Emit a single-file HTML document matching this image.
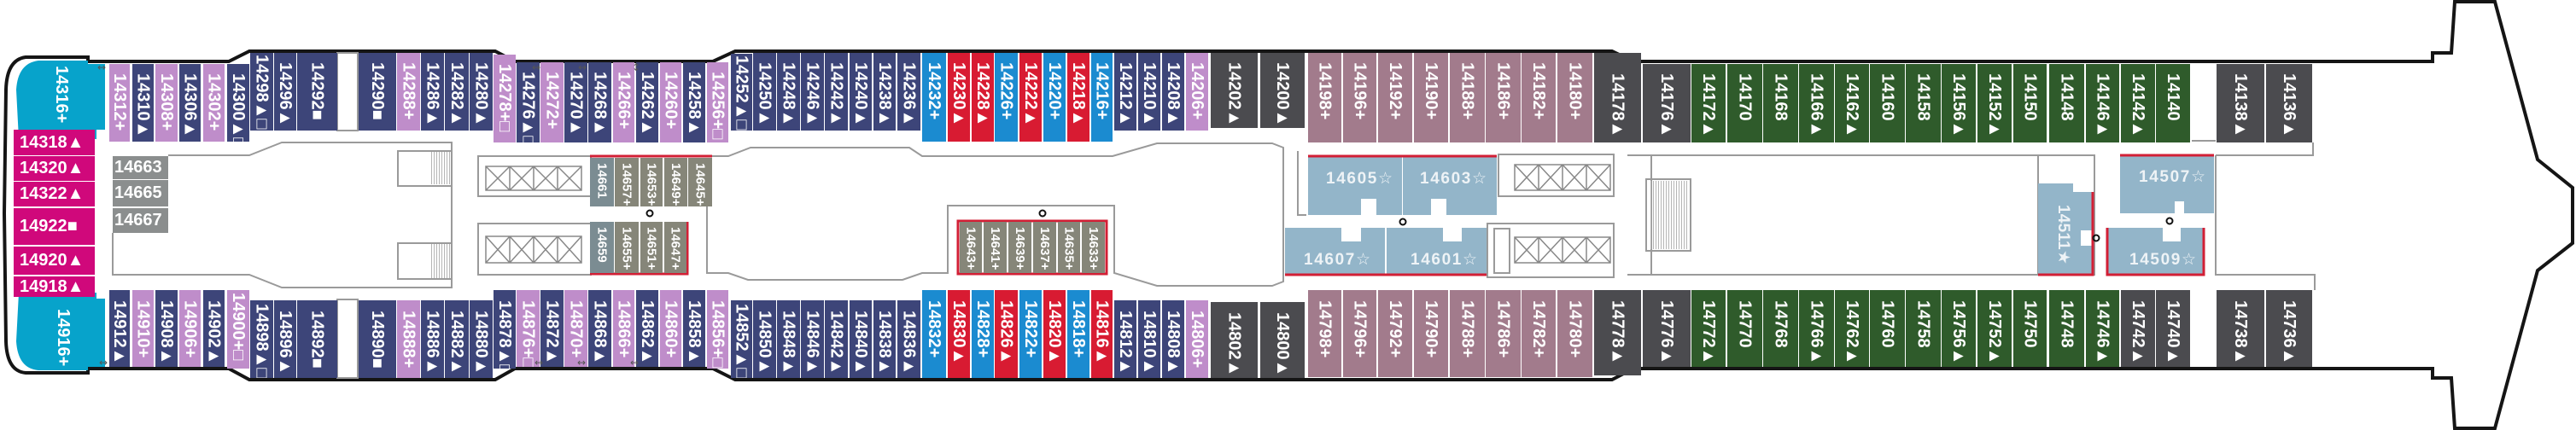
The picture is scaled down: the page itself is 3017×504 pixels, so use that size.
<!DOCTYPE html>
<html><head><meta charset="utf-8"><style>
html,body{margin:0;padding:0;background:#fff}
#w{position:relative;width:3017px;height:504px;overflow:hidden;background:#fff}
svg{position:absolute;left:0;top:0}
.c{position:absolute;display:flex;justify-content:center;align-items:flex-start;color:#fff;font-weight:bold;font-size:20px;font-family:"Liberation Sans","DejaVu Sans",sans-serif;overflow:hidden}
.c span{writing-mode:vertical-rl;text-orientation:sideways;margin-top:11px;line-height:1;white-space:nowrap}
.b span{margin-top:12px}
.s{font-size:15px}.s span{margin-top:6px}
.h{position:absolute;color:#fff;font:bold 20px "Liberation Sans","DejaVu Sans",sans-serif;background:#d0087b;display:flex;align-items:center;padding-left:7px;box-sizing:border-box}
.N{background:#3d4579}.P{background:#bf8dca}.B{background:#1b8bd0}.R{background:#d81b32}.D{background:#4b4b4f}.M{background:#a27b8c}.G{background:#2f5b2b}.O{background:#868679}.Q{background:#7b8c92}
.a{position:absolute;font:12px "DejaVu Sans",sans-serif;color:#555}
</style></head><body><div id="w">
<svg width="3017" height="504" viewBox="0 0 3017 504">
<path d="M30 67 L103 67 L103 72 L268 72 L292 60 L580 60 L603 72 L835 72 L861 60 L1888 60 L1913 72 L2849 72 L2849 62 L2871 62 L2875 2 L2922 2 L2972 187 L3013 220 L3013 285 L2972 317 L2922 502 L2875 502 L2871 443 L2849 443 L2849 432 L1913 432 L1888 445 L861 445 L835 432 L603 432 L580 445 L292 445 L268 432 L103 432 L103 437 L30 437 Q8 435 7 400 L5 250 L7 105 Q8 70 30 67 Z" fill="#fff" stroke="#151515" stroke-width="4"/>
<path d="M22 163 L19 105 Q21 74 45 71 L103 71 L103 75 L123 75 L123 152 L113 152 L113 163 Z" fill="#07a3cb"/>
<path d="M22 343 L113 343 L113 350 L123 350 L123 430 L103 430 L103 434 L45 434 Q21 432 19 400 Z" fill="#07a3cb"/>
<text transform="translate(66,77) rotate(90)" fill="#fff" font-family="Liberation Sans,DejaVu Sans,sans-serif" font-weight="bold" font-size="20">14316+</text>
<text transform="translate(68,362) rotate(90)" fill="#fff" font-family="Liberation Sans,DejaVu Sans,sans-serif" font-weight="bold" font-size="20">14916+</text>
<g fill="none" stroke="#9a9a9a" stroke-width="2">
<path d="M132 273 L132 322 L292 322 L330 337 L529 337 L529 167 L330 167 L292 182 L197 182"/>
<rect x="466" y="177" width="63" height="41"/><rect x="466" y="285" width="63" height="42"/>
<rect x="560" y="183" width="132" height="47"/><rect x="560" y="262" width="132" height="60"/>
<path d="M834 183 L853 183 L879 173 L1065 173 L1080 183 L1303 183 L1355 168 L1490 168 L1503 173 L1503 330 L1490 335 L1355 335 L1305 320 L1305 241 L1110 241 L1110 320 L1080 320 L1057 328 L876 328 L853 320 L828 320 L828 242"/>
<path d="M1520 177 L1520 252 L1530 252"/>
<rect x="1755" y="181" width="135" height="49"/><rect x="1742" y="262" width="148" height="63"/><rect x="1750" y="268" width="18" height="52"/>
<path d="M1906 182 L2387 182 M1906 322 L2387 322 M1934 182 L1934 322"/>
<rect x="1928" y="210" width="52" height="84"/>
<rect x="2387" y="182" width="66" height="140"/>
<path d="M2595 182 L2709 182 L2709 167 M2595 182 L2595 322 L2711 322 L2711 340 M2567 165 L2595 165"/>
<rect x="395" y="62" width="24" height="91"/><rect x="395" y="351" width="24" height="92"/>
</g>
<g stroke="#b5b5b5" stroke-width="1" fill="none">
<line x1="505" y1="197" x2="528" y2="197" stroke-width="38" stroke-dasharray="1 2"/>
<line x1="505" y1="306" x2="528" y2="306" stroke-width="40" stroke-dasharray="1 2"/>
<line x1="1933" y1="252" x2="1976" y2="252" stroke-width="80" stroke-dasharray="1 2"/>
</g>
<g fill="none" stroke="#888" stroke-width="1.5">
<path d="M569 195h28v28h-28zM569 195l28 28M597 195l-28 28M597 195h28v28h-28zM597 195l28 28M625 195l-28 28M625 195h28v28h-28zM625 195l28 28M653 195l-28 28M653 195h28v28h-28zM653 195l28 28M681 195l-28 28"/>
<path d="M569 277h28v31h-28zM569 277l28 31M597 277l-28 31M597 277h28v31h-28zM597 277l28 31M625 277l-28 31M625 277h28v31h-28zM625 277l28 31M653 277l-28 31M653 277h28v31h-28zM653 277l28 31M681 277l-28 31"/>
<path d="M1774 193h28v30h-28zM1774 193l28 30M1802 193l-28 30M1802 193h28v30h-28zM1802 193l28 30M1830 193l-28 30M1830 193h28v30h-28zM1830 193l28 30M1858 193l-28 30M1858 193h28v30h-28zM1858 193l28 30M1886 193l-28 30"/>
<path d="M1774 278h28v30h-28zM1774 278l28 30M1802 278l-28 30M1802 278h28v30h-28zM1802 278l28 30M1830 278l-28 30M1830 278h28v30h-28zM1830 278l28 30M1858 278l-28 30M1858 278h28v30h-28zM1858 278l28 30M1886 278l-28 30"/>
</g>
<g fill="#93b5c9">
<polygon points="1532,183 1642,183 1642,252 1612,252 1612,233 1594,233 1594,252 1532,252"/>
<polygon points="1643,183 1753,183 1753,252 1694,252 1694,233 1676,233 1676,252 1643,252"/>
<polygon points="1505,267 1571,267 1571,283 1594,283 1594,267 1622,267 1622,322 1505,322"/>
<polygon points="1624,267 1690,267 1690,283 1712,283 1712,267 1741,267 1741,322 1624,322"/>
<polygon points="2387,215 2428,215 2428,225 2451,225 2451,270 2437,270 2437,288 2451,288 2451,322 2387,322"/>
<polygon points="2483,182 2593,182 2593,250 2558,250 2558,236 2547,236 2547,250 2483,250"/>
<polygon points="2468,267 2533,267 2533,283 2554,283 2554,267 2581,267 2581,322 2468,322"/>
</g>
<g fill="none" stroke="#d21f35" stroke-width="3">
<path d="M691 183 L834 183"/><path d="M691 321 L805 321 L805 260"/>
<rect x="1122" y="259" width="174" height="62"/>
<path d="M1532 183 L1753 183 M1505 322 L1741 322"/>
<path d="M2451 225 L2451 322 L2387 322"/>
<path d="M2483 182 L2593 182"/>
<path d="M2468 267 L2468 322 L2581 322 L2581 267"/>
</g>
<g fill="#eef3f6" font-family="Liberation Sans,DejaVu Sans,sans-serif" font-size="19" font-weight="bold">
<text x="1553" y="215" textLength="78">14605☆</text>
<text x="1663" y="215" textLength="78">14603☆</text>
<text x="1527" y="310" textLength="78">14607☆</text>
<text x="1652" y="310" textLength="78">14601☆</text>
<text x="2505" y="213" textLength="78">14507☆</text>
<text x="2494" y="310" textLength="78">14509☆</text>
<text transform="translate(2411,240) rotate(90)" textLength="70">14511★</text>
</g>
<g fill="none" stroke="#111" stroke-width="2">
<circle cx="761" cy="250" r="3.5"/><circle cx="1221" cy="250" r="3.5"/><circle cx="1643" cy="260" r="3.5"/><circle cx="2455" cy="279" r="3.5"/><circle cx="2541" cy="259" r="3.5"/>
</g>
</svg>

<div class="h" style="left:16px;top:152px;width:95px;height:30px">14318▲</div>
<div class="h" style="left:16px;top:183px;width:95px;height:29px">14320▲</div>
<div class="h" style="left:16px;top:213px;width:95px;height:29px">14322▲</div>
<div class="h" style="left:16px;top:244px;width:95px;height:43px">14922■</div>
<div class="h" style="left:16px;top:289px;width:95px;height:33px">14920▲</div>
<div class="h" style="left:16px;top:324px;width:95px;height:24px">14918▲</div>

<div class="h" style="left:132px;top:183px;width:65px;height:27px;background:#8b8e8e;font-size:20px;padding-left:2px">14663</div>
<div class="h" style="left:132px;top:211px;width:65px;height:31px;background:#8b8e8e;font-size:20px;padding-left:2px">14665</div>
<div class="h" style="left:132px;top:244px;width:65px;height:29px;background:#8b8e8e;font-size:20px;padding-left:2px">14667</div>

<div class="c s Q" style="left:691px;top:185px;width:28px;height:57px"><span>14661</span></div>
<div class="c s O" style="left:720px;top:185px;width:28px;height:57px"><span>14657+</span></div>
<div class="c s O" style="left:750px;top:185px;width:26px;height:57px"><span>14653+</span></div>
<div class="c s O" style="left:778px;top:185px;width:27px;height:57px"><span>14649+</span></div>
<div class="c s O" style="left:806px;top:185px;width:28px;height:57px"><span>14645+</span></div>
<div class="c s Q" style="left:691px;top:260px;width:28px;height:60px"><span>14659</span></div>
<div class="c s O" style="left:720px;top:260px;width:28px;height:60px"><span>14655+</span></div>
<div class="c s O" style="left:750px;top:260px;width:26px;height:60px"><span>14651+</span></div>
<div class="c s O" style="left:778px;top:260px;width:26px;height:60px"><span>14647+</span></div>
<div class="c s O" style="left:1124px;top:260px;width:26px;height:60px"><span>14643+</span></div>
<div class="c s O" style="left:1152px;top:260px;width:27px;height:60px"><span>14641+</span></div>
<div class="c s O" style="left:1181px;top:260px;width:27px;height:60px"><span>14639+</span></div>
<div class="c s O" style="left:1210px;top:260px;width:27px;height:60px"><span>14637+</span></div>
<div class="c s O" style="left:1239px;top:260px;width:26px;height:60px"><span>14635+</span></div>
<div class="c s O" style="left:1267px;top:260px;width:27px;height:60px"><span>14633+</span></div>

<div class="c P" style="left:128px;top:75px;width:24px;height:91px"><span>14312+</span></div>
<div class="c N" style="left:155px;top:75px;width:25px;height:91px"><span>14310▲</span></div>
<div class="c P" style="left:182px;top:75px;width:26px;height:91px"><span>14308+</span></div>
<div class="c N" style="left:210px;top:75px;width:25px;height:91px"><span>14306▲</span></div>
<div class="c P" style="left:238px;top:75px;width:25px;height:91px"><span>14302+</span></div>
<div class="c N" style="left:266px;top:75px;width:26px;height:91px"><span>14300▲□</span></div>
<div class="c N" style="left:293px;top:62px;width:27px;height:91px"><span style="margin-top:2px">14298▲□</span></div>
<div class="c N" style="left:321px;top:62px;width:26px;height:91px"><span>14296▲</span></div>
<div class="c N" style="left:348px;top:62px;width:47px;height:91px"><span>14292■</span></div>
<div class="c N" style="left:420px;top:62px;width:44px;height:91px"><span>14290■</span></div>
<div class="c P" style="left:465px;top:62px;width:27px;height:91px"><span>14288+</span></div>
<div class="c N" style="left:493px;top:62px;width:27px;height:91px"><span>14286▲</span></div>
<div class="c N" style="left:521px;top:62px;width:28px;height:91px"><span>14282▲</span></div>
<div class="c N" style="left:550px;top:62px;width:27px;height:91px"><span>14280▲</span></div>
<div class="c P" style="left:578px;top:64px;width:26px;height:103px"><span>14278+□</span></div>
<div class="c N" style="left:605px;top:73px;width:27px;height:94px"><span>14276▲□</span></div>
<div class="c P" style="left:633px;top:73px;width:27px;height:94px"><span>14272+</span></div>
<div class="c N" style="left:661px;top:73px;width:27px;height:94px"><span>14270▲</span></div>
<div class="c N" style="left:689px;top:73px;width:27px;height:94px"><span>14268▲</span></div>
<div class="c P" style="left:718px;top:73px;width:25px;height:94px"><span>14266+</span></div>
<div class="c N" style="left:745px;top:73px;width:26px;height:94px"><span>14262▲</span></div>
<div class="c P" style="left:773px;top:73px;width:25px;height:94px"><span>14260+</span></div>
<div class="c N" style="left:800px;top:73px;width:26px;height:94px"><span>14258▲</span></div>
<div class="c P" style="left:828px;top:73px;width:25px;height:94px"><span>14256+□</span></div>
<div class="c N" style="left:856px;top:63px;width:25px;height:90px"><span style="margin-top:2px">14252▲□</span></div>
<div class="c N" style="left:882px;top:62px;width:27px;height:91px"><span>14250▲</span></div>
<div class="c N" style="left:910px;top:62px;width:27px;height:91px"><span>14248▲</span></div>
<div class="c N" style="left:938px;top:62px;width:27px;height:91px"><span>14246▲</span></div>
<div class="c N" style="left:966px;top:62px;width:27px;height:91px"><span>14242▲</span></div>
<div class="c N" style="left:995px;top:62px;width:26px;height:91px"><span>14240▲</span></div>
<div class="c N" style="left:1023px;top:62px;width:26px;height:91px"><span>14238▲</span></div>
<div class="c N" style="left:1051px;top:62px;width:27px;height:91px"><span>14236▲</span></div>
<div class="c B" style="left:1080px;top:62px;width:28px;height:104px"><span>14232+</span></div>
<div class="c R" style="left:1110px;top:62px;width:26px;height:104px"><span>14230▲</span></div>
<div class="c R" style="left:1138px;top:62px;width:26px;height:104px"><span>14228▲</span></div>
<div class="c B" style="left:1165px;top:62px;width:27px;height:104px"><span>14226+</span></div>
<div class="c R" style="left:1194px;top:62px;width:26px;height:104px"><span>14222▲</span></div>
<div class="c B" style="left:1222px;top:62px;width:26px;height:104px"><span>14220+</span></div>
<div class="c R" style="left:1250px;top:62px;width:26px;height:104px"><span>14218▲</span></div>
<div class="c B" style="left:1278px;top:62px;width:25px;height:104px"><span>14216+</span></div>
<div class="c N" style="left:1305px;top:62px;width:26px;height:91px"><span>14212▲</span></div>
<div class="c N" style="left:1333px;top:62px;width:26px;height:91px"><span>14210▲</span></div>
<div class="c N" style="left:1361px;top:62px;width:26px;height:91px"><span>14208▲</span></div>
<div class="c P" style="left:1389px;top:62px;width:26px;height:91px"><span>14206+</span></div>
<div class="c D" style="left:1418px;top:62px;width:55px;height:88px"><span>14202▲</span></div>
<div class="c D" style="left:1476px;top:62px;width:52px;height:88px"><span>14200▲</span></div>
<div class="c M" style="left:1532px;top:62px;width:39px;height:105px"><span>14198+</span></div>
<div class="c M" style="left:1573px;top:62px;width:39px;height:105px"><span>14196+</span></div>
<div class="c M" style="left:1614px;top:62px;width:40px;height:105px"><span>14192+</span></div>
<div class="c M" style="left:1656px;top:62px;width:40px;height:105px"><span>14190+</span></div>
<div class="c M" style="left:1698px;top:62px;width:41px;height:105px"><span>14188+</span></div>
<div class="c M" style="left:1740px;top:62px;width:41px;height:105px"><span>14186+</span></div>
<div class="c M" style="left:1782px;top:62px;width:40px;height:105px"><span>14182+</span></div>
<div class="c M" style="left:1824px;top:62px;width:41px;height:105px"><span>14180+</span></div>
<div class="c D" style="left:1867px;top:62px;width:55px;height:105px"><span style="margin-top:24px">14178▲</span></div>
<div class="c D" style="left:1924px;top:75px;width:56px;height:92px"><span>14176▲</span></div>
<div class="c G" style="left:1981px;top:75px;width:40px;height:92px"><span>14172▲</span></div>
<div class="c G" style="left:2023px;top:75px;width:41px;height:92px"><span>14170</span></div>
<div class="c G" style="left:2065px;top:75px;width:41px;height:92px"><span>14168</span></div>
<div class="c G" style="left:2107px;top:75px;width:41px;height:92px"><span>14166▲</span></div>
<div class="c G" style="left:2149px;top:75px;width:40px;height:92px"><span>14162▲</span></div>
<div class="c G" style="left:2190px;top:75px;width:41px;height:92px"><span>14160</span></div>
<div class="c G" style="left:2232px;top:75px;width:41px;height:92px"><span>14158</span></div>
<div class="c G" style="left:2274px;top:75px;width:40px;height:92px"><span>14156▲</span></div>
<div class="c G" style="left:2316px;top:75px;width:40px;height:92px"><span>14152▲</span></div>
<div class="c G" style="left:2358px;top:75px;width:39px;height:92px"><span>14150</span></div>
<div class="c G" style="left:2400px;top:75px;width:41px;height:92px"><span>14148</span></div>
<div class="c G" style="left:2443px;top:75px;width:39px;height:92px"><span>14146▲</span></div>
<div class="c G" style="left:2484px;top:75px;width:40px;height:92px"><span>14142▲</span></div>
<div class="c G" style="left:2525px;top:75px;width:40px;height:92px"><span>14140</span></div>
<div class="c D" style="left:2596px;top:75px;width:56px;height:92px"><span>14138▲</span></div>
<div class="c D" style="left:2654px;top:75px;width:54px;height:92px"><span>14136▲</span></div>

<div class="c b N" style="left:128px;top:340px;width:24px;height:90px"><span>14912▲</span></div>
<div class="c b P" style="left:155px;top:340px;width:25px;height:90px"><span>14910+</span></div>
<div class="c b N" style="left:182px;top:340px;width:26px;height:90px"><span>14908▲</span></div>
<div class="c b P" style="left:210px;top:340px;width:25px;height:90px"><span>14906+</span></div>
<div class="c b N" style="left:238px;top:340px;width:25px;height:90px"><span>14902▲</span></div>
<div class="c b P" style="left:266px;top:340px;width:26px;height:92px"><span style="margin-top:3px">14900+□</span></div>
<div class="c b N" style="left:293px;top:352px;width:27px;height:91px"><span style="margin-top:4px">14898▲□</span></div>
<div class="c b N" style="left:321px;top:352px;width:26px;height:91px"><span>14896▲</span></div>
<div class="c b N" style="left:348px;top:352px;width:47px;height:91px"><span>14892■</span></div>
<div class="c b N" style="left:420px;top:352px;width:44px;height:91px"><span>14890■</span></div>
<div class="c b P" style="left:465px;top:352px;width:27px;height:91px"><span>14888+</span></div>
<div class="c b N" style="left:493px;top:352px;width:27px;height:91px"><span>14886▲</span></div>
<div class="c b N" style="left:521px;top:352px;width:28px;height:91px"><span>14882▲</span></div>
<div class="c b N" style="left:550px;top:352px;width:27px;height:91px"><span>14880▲</span></div>
<div class="c b N" style="left:578px;top:340px;width:26px;height:92px"><span>14878▲□</span></div>
<div class="c b P" style="left:605px;top:340px;width:27px;height:90px"><span>14876+□</span></div>
<div class="c b N" style="left:633px;top:340px;width:27px;height:90px"><span>14872▲</span></div>
<div class="c b P" style="left:661px;top:340px;width:27px;height:90px"><span>14870+</span></div>
<div class="c b N" style="left:689px;top:340px;width:27px;height:90px"><span>14868▲</span></div>
<div class="c b P" style="left:718px;top:340px;width:25px;height:90px"><span>14866+</span></div>
<div class="c b N" style="left:745px;top:340px;width:26px;height:90px"><span>14862▲</span></div>
<div class="c b P" style="left:773px;top:340px;width:25px;height:90px"><span>14860+</span></div>
<div class="c b N" style="left:800px;top:340px;width:26px;height:90px"><span>14858▲</span></div>
<div class="c b P" style="left:828px;top:340px;width:25px;height:92px"><span>14856+□</span></div>
<div class="c b N" style="left:856px;top:352px;width:25px;height:91px"><span style="margin-top:4px">14852▲□</span></div>
<div class="c b N" style="left:882px;top:352px;width:27px;height:91px"><span>14850▲</span></div>
<div class="c b N" style="left:910px;top:352px;width:27px;height:91px"><span>14848▲</span></div>
<div class="c b N" style="left:938px;top:352px;width:27px;height:91px"><span>14846▲</span></div>
<div class="c b N" style="left:966px;top:352px;width:27px;height:91px"><span>14842▲</span></div>
<div class="c b N" style="left:995px;top:352px;width:26px;height:91px"><span>14840▲</span></div>
<div class="c b N" style="left:1023px;top:352px;width:26px;height:91px"><span>14838▲</span></div>
<div class="c b N" style="left:1051px;top:352px;width:27px;height:91px"><span>14836▲</span></div>
<div class="c b B" style="left:1080px;top:340px;width:28px;height:103px"><span>14832+</span></div>
<div class="c b R" style="left:1110px;top:340px;width:26px;height:103px"><span>14830▲</span></div>
<div class="c b B" style="left:1138px;top:340px;width:26px;height:103px"><span>14828+</span></div>
<div class="c b R" style="left:1165px;top:340px;width:27px;height:103px"><span>14826▲</span></div>
<div class="c b B" style="left:1194px;top:340px;width:26px;height:103px"><span>14822+</span></div>
<div class="c b R" style="left:1222px;top:340px;width:26px;height:103px"><span>14820▲</span></div>
<div class="c b B" style="left:1250px;top:340px;width:26px;height:103px"><span>14818+</span></div>
<div class="c b R" style="left:1278px;top:340px;width:25px;height:103px"><span>14816▲</span></div>
<div class="c b N" style="left:1305px;top:352px;width:26px;height:91px"><span>14812▲</span></div>
<div class="c b N" style="left:1333px;top:352px;width:26px;height:91px"><span>14810▲</span></div>
<div class="c b N" style="left:1361px;top:352px;width:26px;height:91px"><span>14808▲</span></div>
<div class="c b P" style="left:1389px;top:352px;width:26px;height:91px"><span>14806+</span></div>
<div class="c b D" style="left:1418px;top:354px;width:55px;height:89px"><span>14802▲</span></div>
<div class="c b D" style="left:1476px;top:354px;width:52px;height:89px"><span>14800▲</span></div>
<div class="c b M" style="left:1532px;top:340px;width:39px;height:102px"><span>14798+</span></div>
<div class="c b M" style="left:1573px;top:340px;width:39px;height:102px"><span>14796+</span></div>
<div class="c b M" style="left:1614px;top:340px;width:40px;height:102px"><span>14792+</span></div>
<div class="c b M" style="left:1656px;top:340px;width:40px;height:102px"><span>14790+</span></div>
<div class="c b M" style="left:1698px;top:340px;width:41px;height:102px"><span>14788+</span></div>
<div class="c b M" style="left:1740px;top:340px;width:41px;height:102px"><span>14786+</span></div>
<div class="c b M" style="left:1782px;top:340px;width:40px;height:102px"><span>14782+</span></div>
<div class="c b M" style="left:1824px;top:340px;width:41px;height:102px"><span>14780+</span></div>
<div class="c b D" style="left:1867px;top:340px;width:55px;height:100px"><span>14778▲</span></div>
<div class="c b D" style="left:1924px;top:340px;width:56px;height:90px"><span>14776▲</span></div>
<div class="c b G" style="left:1981px;top:340px;width:40px;height:90px"><span>14772▲</span></div>
<div class="c b G" style="left:2023px;top:340px;width:41px;height:90px"><span>14770</span></div>
<div class="c b G" style="left:2065px;top:340px;width:41px;height:90px"><span>14768</span></div>
<div class="c b G" style="left:2107px;top:340px;width:41px;height:90px"><span>14766▲</span></div>
<div class="c b G" style="left:2149px;top:340px;width:40px;height:90px"><span>14762▲</span></div>
<div class="c b G" style="left:2190px;top:340px;width:41px;height:90px"><span>14760</span></div>
<div class="c b G" style="left:2232px;top:340px;width:41px;height:90px"><span>14758</span></div>
<div class="c b G" style="left:2274px;top:340px;width:40px;height:90px"><span>14756▲</span></div>
<div class="c b G" style="left:2316px;top:340px;width:40px;height:90px"><span>14752▲</span></div>
<div class="c b G" style="left:2358px;top:340px;width:39px;height:90px"><span>14750</span></div>
<div class="c b G" style="left:2400px;top:340px;width:41px;height:90px"><span>14748</span></div>
<div class="c b G" style="left:2443px;top:340px;width:39px;height:90px"><span>14746▲</span></div>
<div class="c b D" style="left:2484px;top:340px;width:40px;height:90px"><span>14742▲</span></div>
<div class="c b D" style="left:2525px;top:340px;width:40px;height:90px"><span>14740▲</span></div>
<div class="c b D" style="left:2596px;top:340px;width:56px;height:90px"><span>14738▲</span></div>
<div class="c b D" style="left:2654px;top:340px;width:54px;height:90px"><span>14736▲</span></div>

<div class="a" style="left:114px;top:72px">↔</div>
<div class="a" style="left:623px;top:72px">↔</div>
<div class="a" style="left:677px;top:72px">↔</div>
<div class="a" style="left:740px;top:72px">↕</div>
<div class="a" style="left:116px;top:418px">↔</div>
<div class="a" style="left:626px;top:418px">↔</div>
<div class="a" style="left:676px;top:418px">↔</div>
<div class="a" style="left:738px;top:418px">↔</div>
</div></body></html>
